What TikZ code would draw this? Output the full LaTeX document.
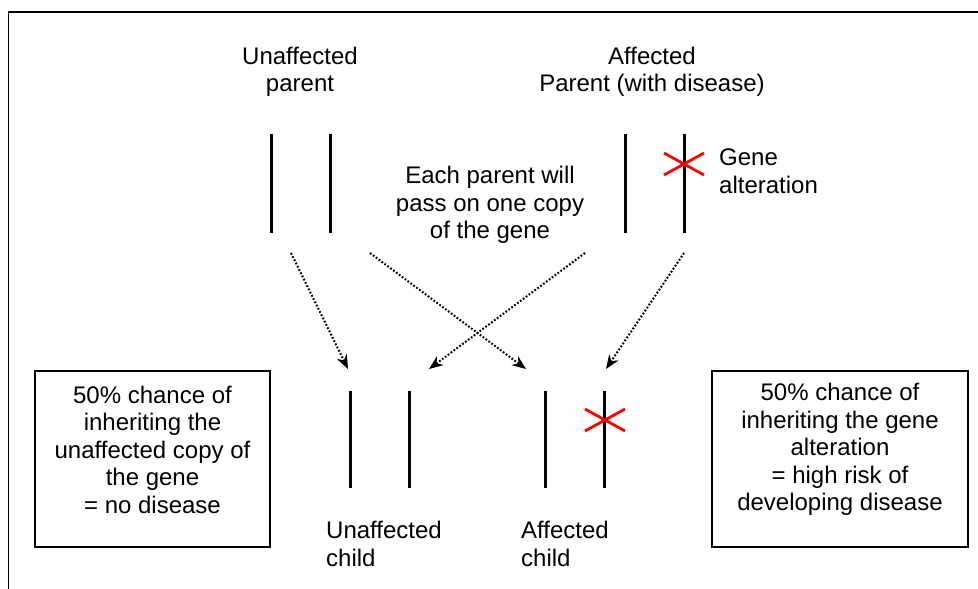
\documentclass[tikz,border=0pt]{standalone}
\usepackage{fontspec}
\setmainfont{Liberation Sans}
\usetikzlibrary{arrows.meta}

\begin{document}
\begin{tikzpicture}[x=1pt, y=-1pt,
  every node/.style={font=\fontsize{24}{27.5}\selectfont, inner sep=0pt, align=center},
  chromo/.style={line width=3pt},
  altered/.style={red, line width=2.8pt},
  pass/.style={-{Stealth[length=14pt, width=11pt]}, line width=2pt, dash pattern=on 1.8pt off 1.8pt},
  infobox/.style={draw, line width=1.5pt, minimum height=176pt}]
\useasboundingbox (0,0) rectangle (978,589);
\draw[line width=1.5pt] (978,12) -- (8.5,12) -- (8.5,589);

% parents
\node (up) at (300,72) {Unaffected\\parent};
\node (ap) at (652,72) {Affected\\Parent (with disease)};
\draw[chromo] (271,134) -- (271,233);
\draw[chromo] (330,134) -- (330,233);
\draw[chromo] (625,134) -- (625,233);
\draw[chromo] (684,134) -- (684,233);
\draw[altered] (664,153) -- (704,175) (664,175) -- (704,153);
\node[anchor=west, align=left] (ga) at (719,171) {Gene\\alteration};
\node (pass) at (490,205) {Each parent will\\pass on one copy\\of the gene};

% children
\draw[chromo] (350,391) -- (350,488);
\draw[chromo] (409,391) -- (409,488);
\draw[chromo] (545,391) -- (545,488);
\draw[chromo] (604,391) -- (604,488);
\draw[altered] (585,409) -- (625,431) (585,431) -- (625,409);
\node[anchor=west, align=left] (uc) at (326,544) {Unaffected\\child};
\node[anchor=west, align=left] (ac) at (521,544) {Affected\\child};

% copies passed on
\coordinate (u1) at (291,253);
\coordinate (u2) at (370,253);
\coordinate (a1) at (585,253);
\coordinate (a2) at (684,253);
\coordinate (c1) at (348,369);
\coordinate (c2) at (429,369);
\coordinate (c3) at (526,369);
\coordinate (c4) at (606,369);
\draw[pass] (u1) -- (c1);
\draw[pass] (u2) -- (c3);
\draw[pass] (a1) -- (c2);
\draw[pass] (a2) -- (c4);

% outcomes
\node[infobox, minimum width=235pt] (lbox) at (152.5,459) {};
\node (ltext) at ([yshift=9.5pt]lbox.center) {50\% chance of\\inheriting the\\unaffected copy of\\the gene\\= no disease};
\node[infobox, minimum width=256pt] (rbox) at (840,459) {};
\node (rtext) at ([yshift=9.5pt]rbox.center) {50\% chance of\\inheriting the gene\\alteration\\= high risk of\\developing disease};
\end{tikzpicture}
\end{document}
